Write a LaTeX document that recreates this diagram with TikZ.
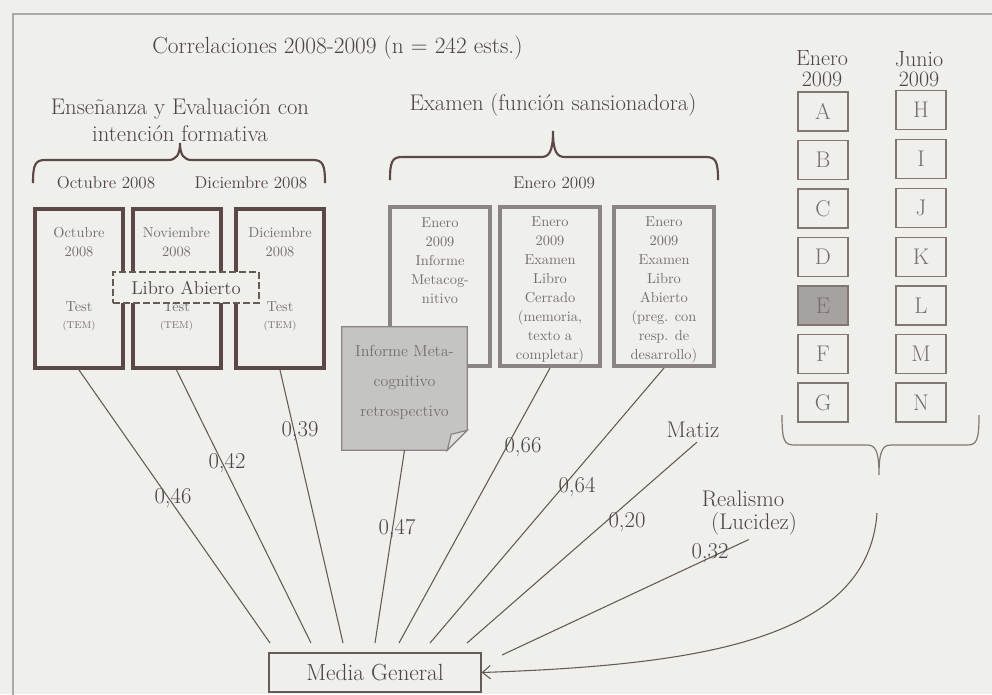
\documentclass[tikz,border=0pt]{standalone}
\usepackage{fontspec}
\usetikzlibrary{arrows.meta,calc}
\definecolor{bg}{RGB}{239,239,236}
\definecolor{framec}{RGB}{172,170,168}
\definecolor{txt}{RGB}{78,68,68}
\definecolor{ltxt}{RGB}{118,110,110}
\definecolor{dbrown}{RGB}{92,72,70}
\definecolor{gboxc}{RGB}{140,132,132}
\definecolor{lnc}{RGB}{100,90,88}
\definecolor{notefill}{RGB}{196,196,194}
\definecolor{foldfill}{RGB}{222,222,220}
\definecolor{efill}{RGB}{166,162,160}
\definecolor{sboxc}{RGB}{130,118,116}
\newcommand\myfs[2]{\fontsize{#1}{#2}\selectfont}
\begin{document}
\begin{tikzpicture}[x=0.75pt,y=-0.75pt,
  tbox/.style={draw=dbrown, line width=3pt, minimum width=66pt, minimum height=119.25pt, inner sep=0pt},
  ebox/.style={draw=gboxc, line width=3pt, minimum width=75pt, minimum height=119.25pt, inner sep=0pt},
  sbox/.style={draw=sboxc, line width=0.9pt, minimum width=37.5pt, minimum height=29.25pt, inner sep=0pt, font=\myfs{17}{17}, text=ltxt},
  btxt/.style={text=ltxt, font=\myfs{10.8}{14.25}, align=center, inner sep=0pt},
  smallc/.style={text=ltxt, font=\myfs{7.5}{8}, inner sep=0pt},
  num/.style={text=txt, font=\myfs{17}{18}, inner sep=1pt},
  conn/.style={draw=lnc, line width=0.8pt},
  head/.style={text=txt, font=\myfs{17}{20}, align=center, inner sep=0pt},
  sub/.style={text=txt, font=\myfs{12.8}{14}, inner sep=0pt},
  side/.style={text=txt, font=\myfs{17}{18}, inner sep=0pt},
  coltitle/.style={text=txt, font=\myfs{16.5}{15.5}, align=center, inner sep=0pt},
  bracedark/.style={draw=dbrown, line width=1.6pt},
  bracelight/.style={draw=sboxc, line width=0.9pt},
]
\useasboundingbox (0,0) rectangle (992,694);
\fill[bg] (0,0) rectangle (992,694);
\draw[framec, line width=0.9pt] (13,700) -- (13,14) -- (1000,14);

% title and headings
\node[text=txt, font=\myfs{17.5}{18}, anchor=west, inner sep=0pt] (title) at (152,48) {Correlaciones 2008-2009 (n = 242 ests.)};
\node[head] (h1) at (180,120) {Enseñanza y Evaluación con\\intención formativa};
\node[head] (h2) at (553,105) {Examen (función sansionadora)};

% braces
\draw[bracedark] (33,183) .. controls (33,165) and (35,160) .. (45,160) -- (168,160) .. controls (176,160) and (180,155) .. (180,143) .. controls (180,155) and (184,160) .. (192,160) -- (313,160) .. controls (323,160) and (325,165) .. (325,183);
\draw[bracedark] (390,180) .. controls (390,162) and (392,157) .. (402,157) -- (541,157) .. controls (549,157) and (553,152) .. (553,131) .. controls (553,152) and (557,157) .. (565,157) -- (706,157) .. controls (716,157) and (718,162) .. (718,180);
\draw[bracelight] (782,415) .. controls (782,440) and (784,445) .. (794,445) -- (867,445) .. controls (875,445) and (879,450) .. (879,475) .. controls (879,450) and (883,445) .. (891,445) -- (967,445) .. controls (977,445) and (979,440) .. (979,415);

\node[sub] (o8) at (106,183) {Octubre 2008};
\node[sub] (d8) at (251,183) {Diciembre 2008};
\node[sub] (e9) at (554,183) {Enero 2009};

% formative boxes
\node[tbox] (b1) at (79,288.5) {};
\node[tbox] (b2) at (176.5,288.5) {};
\node[tbox] (b3) at (280,288.5) {};
\node[btxt] (b1t) at (79,242.5) {Octubre\\2008};
\node[btxt] (b2t) at (176.5,242.5) {Noviembre\\2008};
\node[btxt] (b3t) at (280,242.5) {Diciembre\\2008};
\node[btxt] (b1s) at (79,307) {Test};
\node[btxt] (b2s) at (176.5,307) {Test};
\node[btxt] (b3s) at (280,307) {Test};
\node[smallc] (b1c) at (79,326) {(TEM)};
\node[smallc] (b2c) at (176.5,326) {(TEM)};
\node[smallc] (b3c) at (280,326) {(TEM)};
\node[draw=lnc, dash pattern=on 5pt off 2.5pt, line width=1.1pt, fill=bg, minimum width=109.5pt, minimum height=23.25pt, inner sep=0pt, text=txt, font=\myfs{14}{15}] (libro) at (186,287.5) {Libro Abierto};

% exam boxes
\node[ebox] (e1) at (440,286.5) {};
\node[ebox] (e2) at (550,286.5) {};
\node[ebox] (e3) at (664,286.5) {};
\node[btxt] (e1t) at (440,261) {Enero\\2009\\Informe\\Metacog-\\nitivo};
\node[btxt] (e2t) at (550,290) {Enero\\2009\\Examen\\Libro\\Cerrado\\(memoria,\\texto a\\completar)};
\node[btxt] (e3t) at (664,290) {Enero\\2009\\Examen\\Libro\\Abierto\\(preg. con\\resp. de\\desarrollo)};

% note
\node[minimum width=93.75pt, minimum height=92.25pt, inner sep=0pt] (note) at (404.5,388.5) {};
\filldraw[fill=notefill, draw=gboxc, line width=0.9pt] (note.north west) -- (note.north east) -- ($(note.south east)+(0,-20)$) -- ($(note.south east)+(-20,0)$) -- (note.south west) -- cycle;
\filldraw[fill=foldfill, draw=gboxc, line width=0.9pt] ($(note.south east)+(0,-20)$) -- ($(note.south east)+(-16,-16)$) -- ($(note.south east)+(-20,0)$) -- cycle;
\node[text=ltxt, font=\myfs{12}{22.5}, align=center, inner sep=0pt] (notet) at (404.5,382) {Informe Meta-\\cognitivo\\retrospectivo};

% right column
\node[coltitle] (ene) at (822,69) {Enero\\2009};
\node[coltitle] (jun) at (919,69) {Junio\\2009};
\node[sbox] (A) at (823,111.5) {A};
\node[sbox] (B) at (823,160) {B};
\node[sbox] (C) at (823,208.5) {C};
\node[sbox] (D) at (823,257) {D};
\node[sbox, fill=efill] (E) at (823,305.5) {E};
\node[sbox] (F) at (823,354) {F};
\node[sbox] (G) at (823,402.5) {G};
\node[sbox] (H) at (921,110) {H};
\node[sbox] (I) at (921,159) {I};
\node[sbox] (J) at (921,208) {J};
\node[sbox] (K) at (921,257) {K};
\node[sbox] (L) at (921,305.5) {L};
\node[sbox] (M) at (921,354) {M};
\node[sbox] (N) at (921,402.5) {N};

% other sources
\node[side] (matiz) at (693,430) {Matiz};
\node[side] (real) at (743,499) {Realismo};
\node[side] (luc) at (754,524) {(Lucidez)};

% media general
\node[draw=lnc, line width=0.9pt, minimum width=159pt, minimum height=29.25pt, inner sep=0pt, text=txt, font=\myfs{17.5}{18}] (mg) at (375,672.5) {Media General};

\coordinate (m1) at (270,643);
\coordinate (m2) at (311,643);
\coordinate (m3) at (343,643);
\coordinate (m4) at (375,643);
\coordinate (m5) at (399,643);
\coordinate (m6) at (430,643);
\coordinate (m7) at (467,643);
\coordinate (m8) at (502,655);
\coordinate (astart) at (877,513);

\draw[conn] (b1.south) -- (m1);
\draw[conn] (b2.south) -- (m2);
\draw[conn] (b3.south) -- (m3);
\draw[conn] (note.south) -- (m4);
\draw[conn] (e2.south) -- (m5);
\draw[conn] (e3.south) -- (m6);
\draw[conn] ([xshift=3pt,yshift=-3pt]matiz.south) -- (m7);
\draw[conn] ([xshift=-4pt,yshift=-3pt]luc.south) -- (m8);
\draw[conn, -{Straight Barb[length=6pt,width=10pt]}] (astart) .. controls (868,640) and (700,665) .. (mg.east);

% coefficients
\node[num] (r1) at (173,498) {0,46};
\node[num] (r2) at (227,463) {0,42};
\node[num] (r3) at (300,431) {0,39};
\node[num] (r4) at (397,529) {0,47};
\node[num] (r5) at (523,447) {0,66};
\node[num] (r6) at (577,487) {0,64};
\node[num] (r7) at (627,522) {0,20};
\node[num] (r8) at (710,553) {0,32};
\end{tikzpicture}
\end{document}
